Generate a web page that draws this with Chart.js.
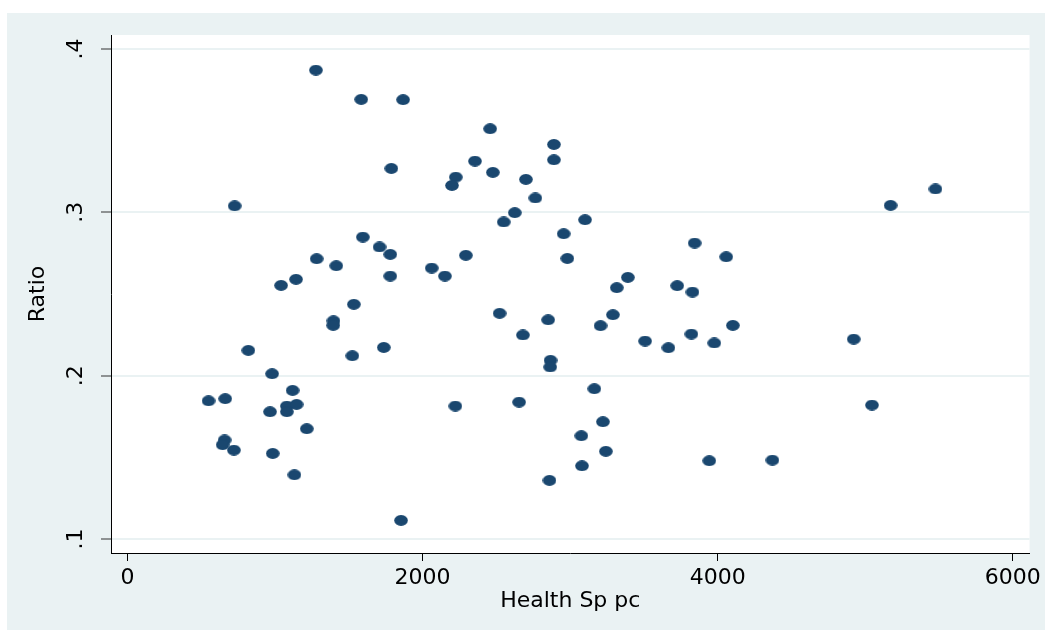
<!DOCTYPE html>
<html>
<head>
<meta charset="utf-8">
<script src="https://cdn.jsdelivr.net/npm/chart.js@4/dist/chart.umd.min.js"></script>
<style>
  html, body { margin: 0; padding: 0; background: #fff; }
  canvas { display: block; }
</style>
</head>
<body>
<canvas id="grafico" width="1045" height="630"></canvas>
<script>
// Health Sp pc (x) and Ratio (y)
const healthSp = [1277, 1584, 1868, 2458, 2355, 1788, 2476, 2225, 2199, 2700,
  726, 2625, 2550, 1595, 1708, 1781, 2293, 1282, 1415, 2062,
  1781, 2151, 1142, 1041, 1534, 2522, 1396, 1394, 2680, 819,
  1737, 1524, 980, 1119, 549, 662, 2222, 2654, 966, 1080,
  1146, 1080, 1215, 658, 645, 721, 984, 1131, 1854, 2890,
  2890, 2764, 3101, 2956, 3844, 2981, 4058, 3391, 3316, 3726,
  3829, 2851, 3290, 3206, 3508, 3666, 3822, 3977, 4103, 4922,
  2867, 2865, 3164, 5046, 3222, 3076, 3242, 3080, 3943, 4371,
  2860, 5172, 5476];
const ratio = [0.3871, 0.3692, 0.3690, 0.3512, 0.3314, 0.3269, 0.3245, 0.3216, 0.3165, 0.3202,
  0.3040, 0.2998, 0.2941, 0.2849, 0.2788, 0.2743, 0.2737, 0.2716, 0.2673, 0.2659,
  0.2610, 0.2610, 0.2590, 0.2553, 0.2437, 0.2382, 0.2336, 0.2308, 0.2249, 0.2155,
  0.2173, 0.2122, 0.2012, 0.1910, 0.1846, 0.1859, 0.1814, 0.1838, 0.1779, 0.1814,
  0.1824, 0.1779, 0.1675, 0.1606, 0.1577, 0.1544, 0.1524, 0.1393, 0.1114, 0.3416,
  0.3322, 0.3088, 0.2955, 0.2869, 0.2812, 0.2718, 0.2728, 0.2602, 0.2539, 0.2551,
  0.2512, 0.2342, 0.2373, 0.2306, 0.2212, 0.2171, 0.2255, 0.2200, 0.2308, 0.2224,
  0.2094, 0.2053, 0.1920, 0.1820, 0.1718, 0.1632, 0.1537, 0.1448, 0.1479, 0.1483,
  0.1359, 0.3043, 0.3143];
const xTicks = [0, 2000, 4000, 6000];
const yTicks = [0.1, 0.2, 0.3, 0.4];
const yTickLabels = ['.1', '.2', '.3', '.4'];

const navy = '#1a476f';
const bluishGray = '#eaf2f3';
const fontFamily = '"DejaVu Sans", sans-serif';

// stata-like slightly wide dot
const dot = document.createElement('canvas');
dot.width = 14;
dot.height = 11;
const dctx = dot.getContext('2d');
dctx.fillStyle = navy;
dctx.beginPath();
dctx.ellipse(7, 5.5, 6.8, 5.4, 0, 0, Math.PI * 2);
dctx.fill();

const points = healthSp.map((x, i) => ({ x: x, y: ratio[i] }));

const background = {
  id: 'background',
  beforeDraw(chart) {
    const ctx = chart.ctx;
    const a = chart.chartArea;
    ctx.save();
    ctx.fillStyle = '#fff';
    ctx.fillRect(0, 0, chart.width, chart.height);
    ctx.fillStyle = bluishGray;
    ctx.fillRect(7, 13, chart.width - 7, chart.height - 13);
    ctx.fillStyle = '#fff';
    ctx.fillRect(a.left, a.top, a.right - a.left, a.bottom - a.top);
    ctx.restore();
  }
};

const ctx = document.getElementById('grafico').getContext('2d');
new Chart(ctx, {
  type: 'scatter',
  data: {
    datasets: [{
      label: 'Ratio',
      data: points,
      pointStyle: dot,
      pointRadius: 6,
      pointHoverRadius: 6
    }]
  },
  options: {
    responsive: false,
    animation: false,
    devicePixelRatio: 1,
    layout: { padding: { top: 35, right: 14, bottom: 0, left: 0 } },
    plugins: {
      legend: { display: false },
      tooltip: { enabled: false }
    },
    scales: {
      x: {
        type: 'linear',
        min: -112,
        max: 6114,
        afterBuildTicks(scale) { scale.ticks = xTicks.map(v => ({ value: v })); },
        afterFit(scale) { scale.height = 77; },
        border: { color: '#000', width: 1 },
        grid: { drawOnChartArea: false, tickColor: '#000', tickLength: 8, tickWidth: 1 },
        ticks: {
          color: '#000',
          padding: 4,
          maxRotation: 0,
          font: { family: fontFamily, size: 22 },
          callback: (v) => String(v)
        },
        title: { display: true, text: 'Health Sp pc', color: '#000', padding: { top: 0, bottom: 16 }, font: { family: fontFamily, size: 22 } }
      },
      y: {
        type: 'linear',
        min: 0.0914,
        max: 0.4086,
        afterBuildTicks(scale) { scale.ticks = yTicks.map(v => ({ value: v })); },
        afterFit(scale) { scale.width = 111; },
        border: { color: '#000', width: 1 },
        grid: { color: bluishGray, lineWidth: 2, tickColor: '#333', tickLength: 10, tickWidth: 1 },
        ticks: {
          color: '#000',
          padding: 14,
          minRotation: 90,
          maxRotation: 90,
          crossAlign: 'center',
          font: { family: fontFamily, size: 22 },
          callback: (v) => yTickLabels[yTicks.indexOf(v)] || ''
        },
        title: { display: true, text: 'Ratio', color: '#000', padding: { top: 25, bottom: 0 }, font: { family: fontFamily, size: 22 } }
      }
    }
  },
  plugins: [background]
});
</script>
</body>
</html>
